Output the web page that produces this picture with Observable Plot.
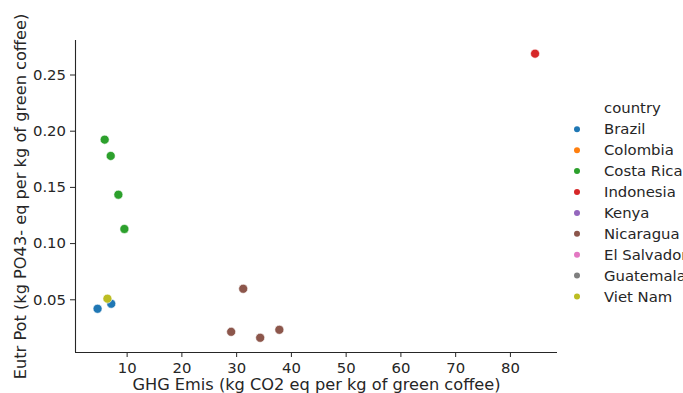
<!DOCTYPE html>
<html>
<head>
<meta charset="utf-8">
<script src="https://cdn.jsdelivr.net/npm/d3@7"></script>
<script src="https://cdn.jsdelivr.net/npm/@observablehq/plot@0.6"></script>
<style>
  html, body { margin: 0; padding: 0; background: #fff; }
  #chart { position: relative; width: 683px; height: 393px; overflow: hidden; }
  svg { font-family: "DejaVu Sans", sans-serif; }
</style>
</head>
<body>
<div id="chart"></div>
<script>
// Legend categories and tab10 colours
const countries = ["Brazil", "Colombia", "Costa Rica", "Indonesia", "Kenya", "Nicaragua", "El Salvador", "Guatemala", "Viet Nam"];
const palette = ["#1f77b4", "#ff7f0e", "#2ca02c", "#d62728", "#9467bd", "#8c564b", "#e377c2", "#7f7f7f", "#bcbd22"];

// Observed points
const pointCountry = ["Indonesia", "Costa Rica", "Costa Rica", "Costa Rica", "Costa Rica", "Brazil", "Brazil", "Viet Nam", "Nicaragua", "Nicaragua", "Nicaragua", "Nicaragua"];
const ghgEmis = [84.5, 5.9, 7.0, 8.4, 9.5, 4.6, 7.1, 6.4, 31.2, 29.0, 34.3, 37.8];
const eutrPot = [0.269, 0.1925, 0.178, 0.1435, 0.113, 0.042, 0.0465, 0.051, 0.0598, 0.0215, 0.0162, 0.0233];

const xTicks = [10, 20, 30, 40, 50, 60, 70, 80];
const yTicks = [0.05, 0.10, 0.15, 0.20, 0.25];
const xLabel = "GHG Emis (kg CO2 eq per kg of green coffee)";
const yLabel = "Eutr Pot (kg PO43- eq per kg of green coffee)";
const legendTitle = "country";

const data = pointCountry.map((c, i) => ({country: c, x: ghgEmis[i], y: eutrPot[i]}));
const xDomain = [0.57, 88.6];
const yDomain = [0.0031, 0.2807];
const fs = 14.85;
const lfs = 16.2;

const plot = Plot.plot({
  width: 683,
  height: 393,
  marginLeft: 75,
  marginRight: 126,
  marginTop: 40,
  marginBottom: 41,
  style: {fontFamily: "DejaVu Sans, sans-serif", fontSize: fs + "px", color: "#262626", background: "white", overflow: "visible"},
  x: {domain: xDomain},
  y: {domain: yDomain},
  color: {domain: countries, range: palette},
  marks: [
    Plot.axisX({ticks: xTicks, tickSize: 5, tickPadding: 4.5, label: null, fontSize: fs, stroke: "#262626", strokeOpacity: 1, strokeWidth: 1}),
    Plot.axisY({ticks: yTicks, tickSize: 5, tickPadding: 4.5, tickFormat: d3.format(".2f"), label: null, fontSize: fs, stroke: "#262626", strokeOpacity: 1, strokeWidth: 1}),
    Plot.ruleX([xDomain[0]], {stroke: "#262626", strokeWidth: 1.1}),
    Plot.ruleY([yDomain[0]], {stroke: "#262626", strokeWidth: 1.1}),
    Plot.dot(data, {x: "x", y: "y", fill: "country", r: 4.5, stroke: "white", strokeWidth: 0.6}),
    Plot.text([xLabel], {frameAnchor: "bottom", textAnchor: "middle", lineAnchor: "middle", dy: 32.5, fontSize: lfs, fill: "#262626"}),
    Plot.text([yLabel], {frameAnchor: "left", textAnchor: "middle", lineAnchor: "middle", dx: -55, rotate: -90, fontSize: lfs, fill: "#262626"})
  ]
});
document.getElementById("chart").appendChild(plot);

// Legend built from the colour scale
const color = plot.scale("color");
const svg = d3.select(plot);
const lg = svg.append("g").attr("font-family", "DejaVu Sans, sans-serif").attr("text-anchor", "start").attr("fill", "#262626").attr("font-size", fs + "px");
lg.append("text").attr("x", 604).attr("y", 108).attr("dy", "0.35em").text(legendTitle);
countries.forEach((c, i) => {
  const y = 129.3 + i * 20.9;
  lg.append("circle").attr("cx", 577).attr("cy", y).attr("r", 3).attr("fill", color.apply(c));
  lg.append("text").attr("x", 604).attr("y", y).attr("dy", "0.35em").text(c);
});
</script>
</body>
</html>
